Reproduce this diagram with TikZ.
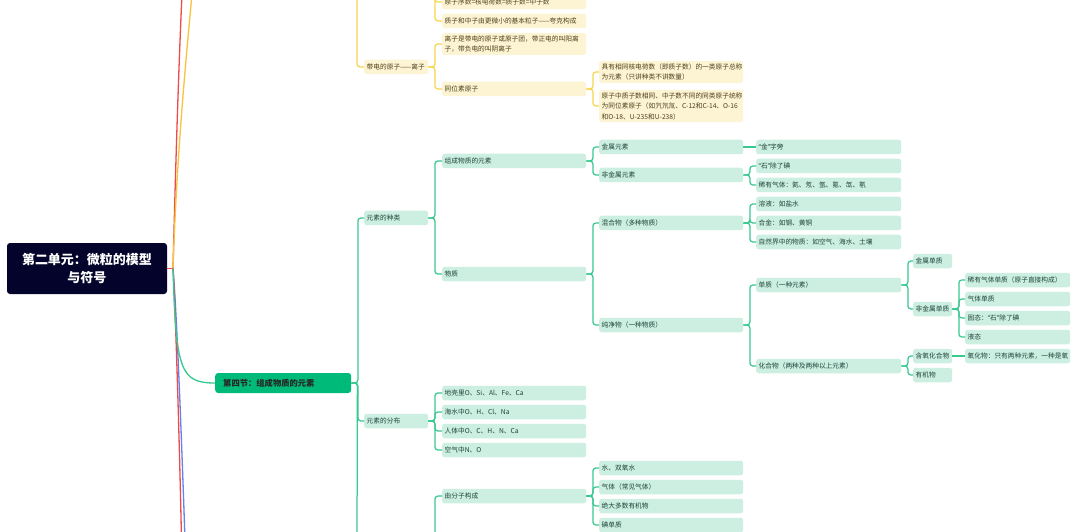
\documentclass[tikz,border=0pt]{standalone}
\usepackage{fontspec}
\newfontfamily\cjk{Noto Sans CJK SC}
\newfontfamily\lat{Noto Sans}
\usetikzlibrary{calc}
\definecolor{gfill}{HTML}{CDEFE2}
\definecolor{gline}{HTML}{38C98F}
\definecolor{gtext}{HTML}{1D4238}
\definecolor{yfill}{HTML}{FDF4D4}
\definecolor{yline}{HTML}{F6D54E}
\definecolor{ytext}{HTML}{4E4018}
\definecolor{secg}{HTML}{00BA79}
\definecolor{navy}{HTML}{03032B}
\definecolor{cred}{HTML}{EC4C47}
\definecolor{cblue}{HTML}{6680F2}
\newcommand\lk[3]{\draw[#1] (#2.east) -- ++(6.5,0) |- (#3.west);}
\newcommand\myLq{{\lat “}}
\newcommand\myRq{{\lat ”}}
\tikzset{
 basebox/.style={rounded corners=2.5pt, inner xsep=2.5pt, inner ysep=2.5pt, minimum height=14.5pt, anchor=west, align=left, font=\cjk\fontsize{6.7}{10.5}\selectfont},
 gn/.style={basebox, fill=gfill, text=gtext},
 yn/.style={basebox, fill=yfill, text=ytext},
 wA/.style={text width=59pt},
 wB/.style={text width=139pt},
 wC/.style={text width=140pt},
 wD/.style={text width=34pt},
 wE/.style={text width=100pt},
 gl/.style={draw=gline, line width=1.25pt, rounded corners=3pt},
 yl/.style={draw=yline, line width=1.25pt, rounded corners=3pt},
 rootbox/.style={fill=navy, text=white, rounded corners=3pt, minimum width=160pt, minimum height=51pt, align=center, font=\cjk\bfseries\fontsize{13}{18}\selectfont},
 secbox/.style={fill=secg, text=black!85, rounded corners=3pt, minimum width=136pt, minimum height=20pt, anchor=west, inner xsep=8pt, text width=120pt, align=left, font=\cjk\bfseries\fontsize{8.3}{10}\selectfont},
 rootline/.style={line width=1.3pt},
}
\begin{document}
\begin{tikzpicture}[x=1pt,y=-1pt]
\useasboundingbox (0,0) rectangle (1080,532);
\clip (0,0) rectangle (1080,532);
\fill[white] (0,0) rectangle (1080,532);
% root
\node[rootbox] (root) at (87,268.5) {第二单元：微粒的模型\\与符号};
\node[secbox] (sec4) at (215,383) {第四节：组成物质的元素};
% yellow section
\node[yn,wB] (y1) at (442,2) {原子序数=核电荷数=质子数=中子数};
\node[yn,wB] (y2) at (442,21) {质子和中子由更微小的基本粒子——夸克构成};
\node[yn,wA] (ion) at (364,67) {带电的原子——离子};
\node[yn,wB] (y3) at (442,44) {离子是带电的原子或原子团，带正电的叫阳离\\子，带负电的叫阴离子};
\node[yn,wB] (iso) at (442,89) {同位素原子};
\node[yn,wB] (y5) at (599,72) {具有相同核电荷数（即质子数）的一类原子总称\\为元素（只讲种类不讲数量）};
\node[yn,wB] (y6) at (599,106) {原子中质子数相同、中子数不同的同类原子统称\\为同位素原子（如氕氘氚、C-12和C-14、O-16\\和O-18、U-235和U-238）};
% green section
\node[gn,wA] (kind) at (364,218) {元素的种类};
\node[gn,wA] (dist) at (364,421) {元素的分布};
\node[gn,wB] (comp) at (442,161) {组成物质的元素};
\node[gn,wB] (matter) at (442,274) {物质};
\node[gn,wB] (metal) at (599,147) {金属元素};
\node[gn,wB] (nonmetal) at (599,175) {非金属元素};
\node[gn,wC] (jin) at (756,147) {\myLq 金\myRq 字旁};
\node[gn,wC] (shi) at (756,166) {\myLq 石\myRq 除了碘};
\node[gn,wC] (rare) at (756,185) {稀有气体：氦、氖、氩、氪、氙、氡};
\node[gn,wB] (mix) at (599,223) {混合物（多种物质）};
\node[gn,wB] (pure) at (599,325) {纯净物（一种物质）};
\node[gn,wC] (sol) at (756,204) {溶液：如盐水};
\node[gn,wC] (alloy) at (756,223) {合金：如钢、黄铜};
\node[gn,wC] (nat) at (756,242) {自然界中的物质：如空气、海水、土壤};
\node[gn,wC] (elem) at (756,285) {单质（一种元素）};
\node[gn,wC] (cmpd) at (756,366) {化合物（两种及两种以上元素）};
\node[gn,wD] (msub) at (913,261) {金属单质};
\node[gn,wD] (nmsub) at (913,309) {非金属单质};
\node[gn,wE] (s1) at (965,280) {稀有气体单质（原子直接构成）};
\node[gn,wE] (s2) at (965,299) {气体单质};
\node[gn,wE] (s3) at (965,318) {固态：\myLq 石\myRq 除了碘};
\node[gn,wE] (s4) at (965,337) {液态};
\node[gn,wD] (oxc) at (913,356) {含氧化合物};
\node[gn,wD] (org) at (913,375) {有机物};
\node[gn,wE] (oxide) at (965,356) {氧化物：只有两种元素，一种是氧};
\node[gn,wB] (d1) at (442,393) {地壳里O、Si、Al、Fe、Ca};
\node[gn,wB] (d2) at (442,412) {海水中O、H、Cl、Na};
\node[gn,wB] (d3) at (442,431) {人体中O、C、H、N、Ca};
\node[gn,wB] (d4) at (442,450) {空气中N、O};
\node[gn,wB] (mol) at (442,496) {由分子构成};
\node[gn,wB] (m1) at (599,468) {水、双氧水};
\node[gn,wB] (m2) at (599,487) {气体（常见气体）};
\node[gn,wB] (m3) at (599,506) {绝大多数有机物};
\node[gn,wB] (m4) at (599,525) {碘单质};
% off-page ends
\coordinate (rj) at (173,268.5);
\coordinate (redtop) at (182,-6);
\coordinate (yeltop) at (192,-6);
\coordinate (redbot) at (181.5,540);
\coordinate (bluebot) at (185,540);
\coordinate (ysp1) at (357,-10);
\coordinate (ysp2) at (435,-10);
\coordinate (gsp1) at (357,545);
\coordinate (gsp2) at (435,545);
% root connectors
\draw[rootline, cred] (root.east) -- (rj);
\draw[rootline, cred] (rj) .. controls (176,150) and (179,60) .. (redtop);
\draw[rootline, yline!80!orange] (rj) .. controls (177,150) and (186,60) .. (yeltop);
\draw[rootline, cblue] (rj) .. controls (176,300) and (181,420) .. (bluebot);
\draw[rootline, cred] (rj) .. controls (175,300) and (179,420) .. (redbot);
\draw[rootline, gline] (rj) .. controls (176,370) and (180,383) .. (sec4.west);
% yellow connectors
\draw[yl] (ysp1) |- (ion.west);
\draw[yl] (ysp2) |- (y1.west);
\draw[yl] (ysp2) |- (y2.west);
\lk{yl}{ion}{y3}
\lk{yl}{ion}{iso}
\lk{yl}{iso}{y5}
\lk{yl}{iso}{y6}
% green connectors
\lk{gl}{sec4}{kind}
\lk{gl}{sec4}{dist}
\draw[gl] (sec4.east) -- ++(6,0) -- (gsp1);
\lk{gl}{kind}{comp}
\lk{gl}{kind}{matter}
\lk{gl}{comp}{metal}
\lk{gl}{comp}{nonmetal}
\draw[gl] (metal.east) -- (jin.west);
\lk{gl}{nonmetal}{shi}
\lk{gl}{nonmetal}{rare}
\lk{gl}{matter}{mix}
\lk{gl}{matter}{pure}
\lk{gl}{mix}{sol}
\lk{gl}{mix}{alloy}
\lk{gl}{mix}{nat}
\lk{gl}{pure}{elem}
\lk{gl}{pure}{cmpd}
\lk{gl}{elem}{msub}
\lk{gl}{elem}{nmsub}
\lk{gl}{nmsub}{s1}
\lk{gl}{nmsub}{s2}
\lk{gl}{nmsub}{s3}
\lk{gl}{nmsub}{s4}
\lk{gl}{cmpd}{oxc}
\lk{gl}{cmpd}{org}
\draw[gl] (oxc.east) -- (oxide.west);
\lk{gl}{dist}{d1}
\lk{gl}{dist}{d2}
\lk{gl}{dist}{d3}
\lk{gl}{dist}{d4}
\draw[gl] (gsp2) |- (mol.west);
\lk{gl}{mol}{m1}
\lk{gl}{mol}{m2}
\lk{gl}{mol}{m3}
\lk{gl}{mol}{m4}
\end{tikzpicture}
\end{document}
